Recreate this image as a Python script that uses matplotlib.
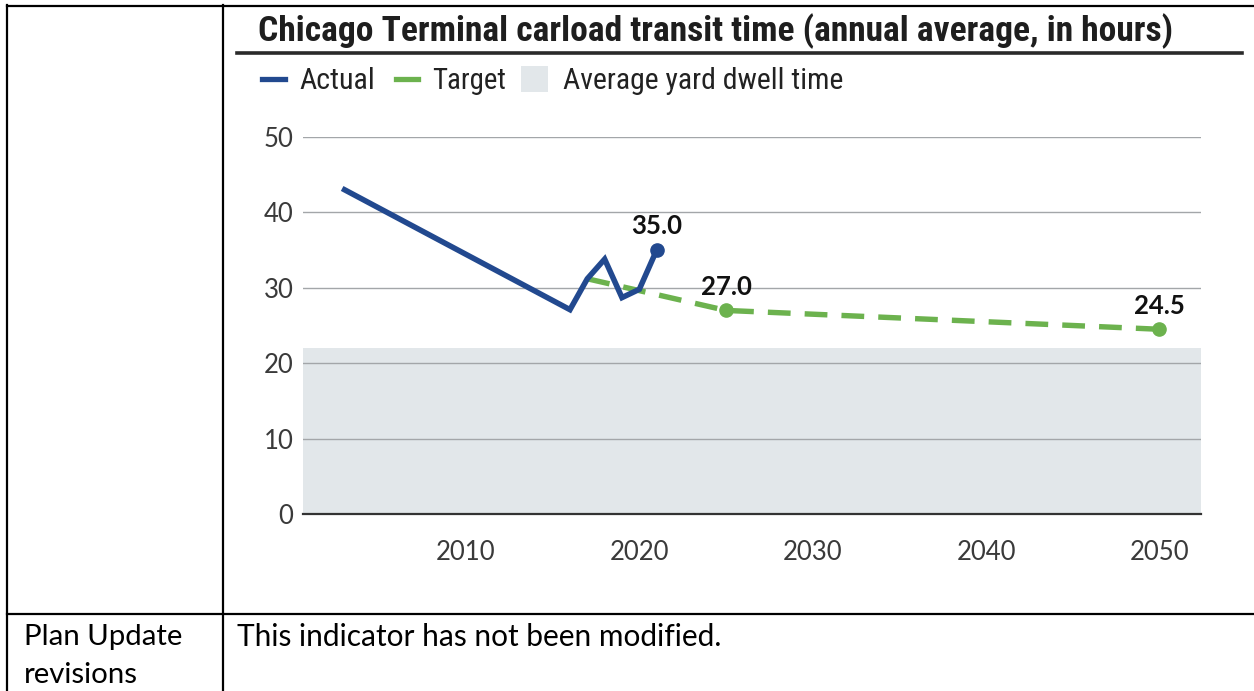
import matplotlib
matplotlib.use("Agg")
import matplotlib.pyplot as plt
from matplotlib import font_manager
from matplotlib.lines import Line2D
from matplotlib.patches import Rectangle

# data
actual_years = [2003, 2016, 2017, 2018, 2019, 2020, 2021]
actual_vals = [43.0, 27.1, 31.2, 33.8, 28.7, 29.8, 35.0]
target_years = [2017, 2025, 2050]
target_vals = [31.2, 27.0, 24.5]
dwell_time = 22.0
x_ticks = [2010, 2020, 2030, 2040, 2050]
y_ticks = [0, 10, 20, 30, 40, 50]

title = "Chicago Terminal carload transit time (annual average, in hours)"
legend_names = ["Actual", "Target", "Average yard dwell time"]
row_label = ["Plan Update", "revisions"]
row_text = "This indicator has not been modified."

blue = "#22498f"
green = "#6cb24e"
band = "#e2e7ea"
grey_text = "#3a3a3a"

installed = {f.name for f in font_manager.fontManager.ttflist}
narrow = "DejaVu Sans"
for name in ["Roboto Condensed", "Liberation Sans Narrow", "Open Sans Condensed", "Lato"]:
    if name in installed:
        narrow = name
        break
body = "Lato" if "Lato" in installed else "DejaVu Sans"

W, H = 1254, 691
fig = plt.figure(figsize=(W / 100, H / 100), dpi=100)


def fx(px):
    return px / W


def fy(py):
    return 1 - py / H


ax = fig.add_axes([fx(303), fy(514), fx(1201) - fx(303), fy(137) - fy(514)])
ax.axhspan(0, dwell_time, color=band, zorder=0, lw=0)
ax.plot(target_years, target_vals, color=green, lw=3.9, dashes=(4.2, 2.6),
        solid_capstyle="butt", zorder=3)
ax.plot(target_years[1:], target_vals[1:], "o", color=green, ms=9.5, zorder=3)
ax.plot(actual_years, actual_vals, color=blue, lw=4.0, solid_joinstyle="miter", zorder=4)
ax.plot(actual_years[-1:], actual_vals[-1:], "o", color=blue, ms=9.5, zorder=4)

for xv, yv in [(actual_years[-1], actual_vals[-1]), (target_years[1], target_vals[1]),
               (target_years[2], target_vals[2])]:
    ax.annotate(f"{yv:.1f}", (xv, yv), xytext=(0, 17), textcoords="offset points",
                ha="center", va="center", fontsize=18.5, fontweight="bold",
                family=body, color="#111111", zorder=5)

ax.set_xlim(2000.6, 2052.4)
ax.set_ylim(0, 50)
ax.set_xticks(x_ticks)
ax.set_yticks(y_ticks)
ax.tick_params(length=0, labelsize=18.5, labelcolor=grey_text)
ax.tick_params(axis="x", pad=19)
ax.tick_params(axis="y", pad=7)
for lab in ax.get_xticklabels() + ax.get_yticklabels():
    lab.set_family(body)
ax.grid(axis="y", color="#a3a6a9", lw=1.0)
ax.set_axisbelow(True)
for s in ["left", "right", "top"]:
    ax.spines[s].set_visible(False)
ax.spines["bottom"].set_color("#333333")
ax.spines["bottom"].set_linewidth(1.6)
ax.spines["bottom"].set_zorder(6)

# title and rule
t_title = fig.text(fx(258), fy(31), title, ha="left", va="center",
                   family=narrow, fontweight="semibold", fontsize=20, color="#1e1e1e")
fig.add_artist(Line2D([fx(237), fx(1242)], [fy(53), fy(53)], color="#2a2a2a", lw=2.6))

# legend drawn by hand
fig.add_artist(Line2D([fx(262), fx(285)], [fy(79), fy(79)], color=blue, lw=3.8))
fig.add_artist(Line2D([fx(396), fx(418)], [fy(79), fy(79)], color=green, lw=3.8))
fig.add_artist(Rectangle((fx(521), fy(92)), fx(548) - fx(521), fy(66) - fy(92),
                         transform=fig.transFigure, color=band, lw=0))
leg_texts = []
for xp, name in zip([299, 432, 563], legend_names):
    leg_texts.append(fig.text(fx(xp), fy(81), name, ha="left", va="center",
                              family=narrow, fontsize=17, color="#222222"))

# table frame
for x0, x1, y0, y1 in [(7, 1254, 5.5, 5.5), (7, 1254, 614, 614),
                       (7, 7, 5, 691), (223, 223, 5, 691)]:
    fig.add_artist(Line2D([fx(x0), fx(x1)], [fy(y0), fy(y1)], color="black", lw=1.6))

t_row1 = fig.text(fx(24), fy(637), row_label[0], ha="left", va="center",
                  family=body, fontsize=18, color="black")
t_row2 = fig.text(fx(24), fy(675), row_label[1], ha="left", va="center",
                  family=body, fontsize=18, color="black")
t_row = fig.text(fx(237), fy(637), row_text, ha="left", va="center",
                 family=body, fontsize=18, color="black")

# scale text so widths match the reference
fig.canvas.draw()
r = fig.canvas.get_renderer()


def fit(t, px):
    w = t.get_window_extent(r).width
    t.set_fontsize(t.get_fontsize() * px / w)


fit(t_title, 914)
for t, px in zip(leg_texts, [76, 74, 280]):
    fit(t, px)
fit(t_row1, 158)
fit(t_row, 483)
t_row2.set_fontsize(t_row1.get_fontsize())

fig.savefig("out.png", dpi=100, facecolor="white")
